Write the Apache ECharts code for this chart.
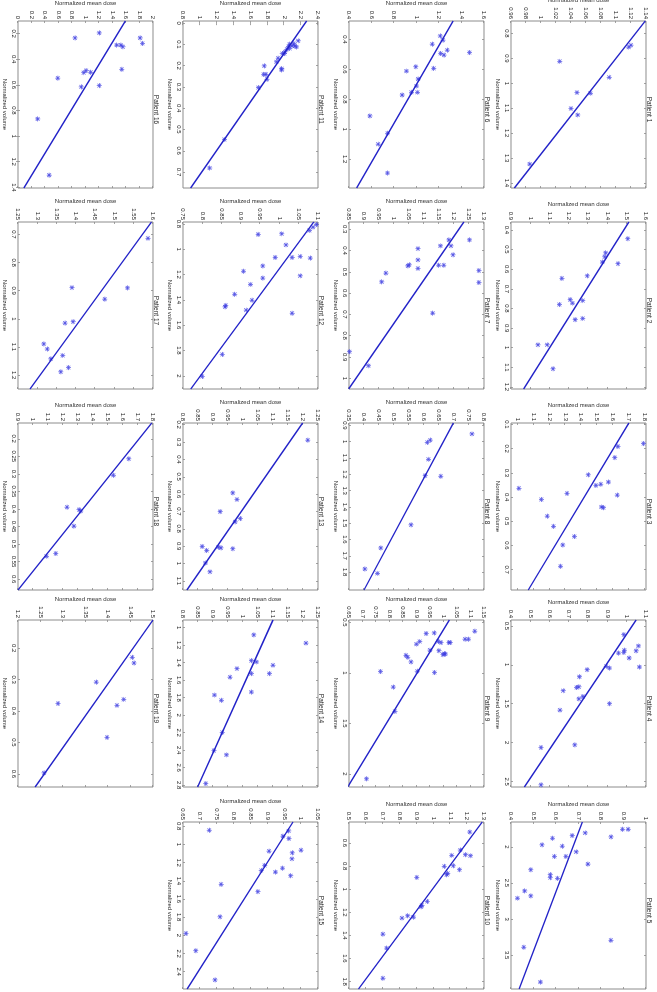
<!DOCTYPE html>
<html>
<head>
<meta charset="utf-8">
<script src="https://cdn.jsdelivr.net/npm/echarts@6/dist/echarts.min.js"></script>
<style>
html, body { margin:0; padding:0; width:657px; height:992px; overflow:hidden; background:#fff; }
/* the figure is drawn landscape and turned a quarter clockwise */
#main { position:absolute; left:0; top:0; width:992px; height:657px; transform-origin:0 0; transform:translate(657px,0) rotate(90deg); }
</style>
</head>
<body>
<div id="main"></div>
<script>
// patient 1
var vol1 = [0.847, 0.855, 0.912, 0.976, 1.037, 1.04, 1.101, 1.127, 1.324];
var dose1 = [1.120, 1.117, 1.025, 1.091, 1.048, 1.066, 1.040, 1.049, 0.985];
var volTicks1 = [0.8, 0.9, 1, 1.1, 1.2, 1.3, 1.4];
var doseTicks1 = [0.96, 0.98, 1, 1.02, 1.04, 1.06, 1.08, 1.1, 1.12, 1.14];
var volRange1 = [0.75, 1.42], doseRange1 = [0.96, 1.14], fit1 = [1.139, 0.9645];
// patient 2
var vol2 = [0.445, 0.537, 0.517, 0.564, 0.572, 0.634, 0.647, 0.76, 0.755, 0.773, 0.78, 0.851, 0.857, 0.985, 0.985, 1.107];
var dose2 = [1.506, 1.386, 1.391, 1.374, 1.455, 1.296, 1.164, 1.272, 1.207, 1.219, 1.151, 1.272, 1.233, 1.088, 1.04, 1.118];
var volTicks2 = [0.4, 0.5, 0.6, 0.7, 0.8, 0.9, 1, 1.1, 1.2];
var doseTicks2 = [0.9, 1, 1.1, 1.2, 1.3, 1.4, 1.5, 1.6];
var volRange2 = [0.36, 1.21], doseRange2 = [0.9, 1.6], fit2 = [1.511, 0.965];
// patient 3
var vol3 = [0.179, 0.191, 0.237, 0.308, 0.338, 0.347, 0.352, 0.392, 0.385, 0.364, 0.41, 0.441, 0.444, 0.479, 0.521, 0.563, 0.598, 0.686];
var dose3 = [1.795, 1.633, 1.613, 1.446, 1.573, 1.525, 1.494, 1.629, 1.312, 1.008, 1.15, 1.529, 1.542, 1.187, 1.227, 1.358, 1.285, 1.271];
var volTicks3 = [0.1, 0.2, 0.3, 0.4, 0.5, 0.6, 0.7];
var doseTicks3 = [1, 1.1, 1.2, 1.3, 1.4, 1.5, 1.6, 1.7, 1.8];
var volRange3 = [0.094, 0.784], doseRange3 = [0.958, 1.81], fit3 = [1.702, 1.067];
// patient 4
var vol4 = [0.613, 0.758, 0.821, 0.813, 0.842, 0.85, 0.913, 1.029, 1.021, 1.042, 1.063, 1.154, 1.292, 1.283, 1.333, 1.408, 1.438, 1.5, 1.583, 2.029, 2.063, 2.542];
var dose4 = [0.985, 1.061, 1.049, 0.988, 0.985, 0.958, 1.013, 1.066, 0.894, 0.911, 0.795, 0.755, 0.74, 0.752, 0.671, 0.773, 0.752, 0.911, 0.654, 0.731, 0.556, 0.556];
var volTicks4 = [0.5, 1, 1.5, 2, 2.5];
var doseTicks4 = [0.4, 0.5, 0.6, 0.7, 0.8, 0.9, 1, 1.1];
var volRange4 = [0.425, 2.57], doseRange4 = [0.4, 1.1], fit4 = [1.049, 0.469];
// patient 5
var vol5 = [1.757, 1.757, 1.862, 1.807, 1.844, 1.881, 1.972, 1.991, 2.069, 2.133, 2.133, 2.239, 2.317, 2.385, 2.427, 2.436, 2.61, 2.679, 2.711, 3.294, 3.39, 3.872];
var dose5 = [0.896, 0.921, 0.845, 0.73, 0.672, 0.585, 0.538, 0.628, 0.69, 0.593, 0.644, 0.742, 0.488, 0.575, 0.575, 0.607, 0.461, 0.488, 0.429, 0.844, 0.457, 0.531];
var volTicks5 = [2, 2.5, 3, 3.5];
var doseTicks5 = [0.4, 0.5, 0.6, 0.7, 0.8, 0.9, 1];
var volRange5 = [1.656, 3.968], doseRange5 = [0.4, 1], fit5 = [0.717, 0.436];
// patient 6
var vol6 = [0.376, 0.404, 0.431, 0.471, 0.493, 0.504, 0.487, 0.582, 0.593, 0.611, 0.664, 0.711, 0.753, 0.753, 0.771, 0.911, 1.027, 1.1, 1.293];
var dose6 = [1.212, 1.236, 1.141, 1.274, 1.215, 1.245, 1.472, 0.994, 1.153, 0.911, 1.015, 1.0, 0.955, 1.009, 0.873, 0.586, 0.743, 0.66, 0.743];
var volTicks6 = [0.4, 0.6, 0.8, 1, 1.2];
var doseTicks6 = [0.4, 0.6, 0.8, 1, 1.2, 1.4, 1.6];
var volRange6 = [0.276, 1.393], doseRange6 = [0.4, 1.6], fit6 = [1.325, 0.468];
// patient 7
var vol7 = [0.35, 0.35, 0.378, 0.378, 0.42, 0.391, 0.444, 0.484, 0.469, 0.469, 0.472, 0.467, 0.494, 0.55, 0.506, 0.547, 0.694, 0.875, 0.941];
var dose7 = [1.252, 1.183, 1.19, 1.155, 1.197, 1.08, 1.08, 1.08, 1.149, 1.166, 1.046, 1.051, 1.283, 1.283, 0.973, 0.959, 1.129, 0.852, 0.915];
var volTicks7 = [0.3, 0.4, 0.5, 0.6, 0.7, 0.8, 0.9, 1];
var doseTicks7 = [0.85, 0.9, 0.95, 1, 1.05, 1.1, 1.15, 1.2, 1.25, 1.3];
var volRange7 = [0.266, 1.05], doseRange7 = [0.85, 1.3], fit7 = [1.233, 0.849];
// patient 8
var vol8 = [0.952, 0.99, 1.004, 1.108, 1.208, 1.212, 1.51, 1.652, 1.808, 1.781];
var dose8 = [0.76, 0.621, 0.611, 0.615, 0.604, 0.656, 0.557, 0.456, 0.445, 0.403];
var volTicks8 = [0.9, 1, 1.1, 1.2, 1.3, 1.4, 1.5, 1.6, 1.7, 1.8];
var doseTicks8 = [0.35, 0.4, 0.45, 0.5, 0.55, 0.6, 0.65, 0.7, 0.75, 0.8];
var volRange8 = [0.885, 1.91], doseRange8 = [0.35, 0.8], fit8 = [0.698, 0.4];
// patient 9
var vol9 = [0.588, 0.667, 0.667, 0.611, 0.605, 0.69, 0.716, 0.69, 0.7, 0.7, 0.7, 0.775, 0.781, 0.81, 0.814, 0.82, 0.827, 0.846, 0.892, 0.987, 0.984, 0.997, 1.141, 1.382, 2.049];
var dose9 = [1.116, 1.08, 1.093, 0.936, 0.966, 0.912, 0.9, 0.981, 0.991, 1.02, 1.025, 0.95, 0.983, 1.003, 1.007, 0.998, 0.861, 0.868, 0.88, 0.767, 0.903, 0.967, 0.814, 0.82, 0.715];
var volTicks9 = [0.5, 1, 1.5, 2];
var doseTicks9 = [0.65, 0.7, 0.75, 0.8, 0.85, 0.9, 0.95, 1, 1.05, 1.1, 1.15];
var volRange9 = [0.477, 2.13], doseRange9 = [0.65, 1.15], fit9 = [1.022, 0.645];
// patient 10
var vol10 = [0.505, 0.661, 0.701, 0.71, 0.707, 0.802, 0.797, 0.831, 0.863, 0.875, 0.898, 1.106, 1.14, 1.152, 1.25, 1.23, 1.242, 1.389, 1.51, 1.771];
var dose10 = [1.216, 1.16, 1.19, 1.22, 1.109, 1.065, 1.118, 1.155, 1.085, 1.079, 0.902, 0.964, 0.932, 0.928, 0.814, 0.848, 0.882, 0.701, 0.723, 0.701];
var volTicks10 = [0.6, 0.8, 1, 1.2, 1.4, 1.6, 1.8];
var doseTicks10 = [0.5, 0.6, 0.7, 0.8, 0.9, 1, 1.1, 1.2, 1.3];
var volRange10 = [0.418, 1.864], doseRange10 = [0.5, 1.3], fit10 = [1.29, 0.556];
// patient 11
var vol11 = [0.083, 0.096, 0.107, 0.112, 0.107, 0.099, 0.11, 0.119, 0.123, 0.135, 0.143, 0.143, 0.165, 0.182, 0.214, 0.22, 0.201, 0.241, 0.241, 0.264, 0.303, 0.547, 0.681];
var dose11 = [2.166, 2.113, 2.125, 2.146, 2.092, 2.064, 2.051, 2.064, 2.031, 2.01, 2.002, 1.977, 1.928, 1.908, 1.969, 1.969, 1.764, 1.756, 1.785, 1.797, 1.694, 1.292, 1.116];
var volTicks11 = [0, 0.1, 0.2, 0.3, 0.4, 0.5, 0.6, 0.7];
var doseTicks11 = [0.8, 1, 1.2, 1.4, 1.6, 1.8, 2, 2.2, 2.4];
var volRange11 = [-0.01, 0.775], doseRange11 = [0.8, 2.4], fit11 = [2.265, 0.89];
// patient 12
var vol12 = [0.805, 0.826, 0.852, 0.878, 0.883, 0.966, 1.065, 1.065, 1.057, 1.07, 1.132, 1.21, 1.174, 1.228, 1.278, 1.356, 1.403, 1.455, 1.444, 1.481, 1.506, 1.831, 2.005];
var dose12 = [1.096, 1.087, 1.078, 1.006, 0.945, 1.017, 0.989, 1.033, 1.054, 1.08, 0.957, 1.054, 0.907, 0.957, 0.925, 0.884, 0.929, 0.859, 0.861, 0.914, 1.033, 0.852, 0.8];
var volTicks12 = [0.8, 1, 1.2, 1.4, 1.6, 1.8, 2];
var doseTicks12 = [0.75, 0.8, 0.85, 0.9, 0.95, 1, 1.05, 1.1];
var volRange12 = [0.785, 2.104], doseRange12 = [0.75, 1.1], fit12 = [1.089, 0.77];
// patient 13
var vol13 = [0.289, 0.593, 0.631, 0.701, 0.741, 0.76, 0.906, 0.91, 0.915, 0.902, 0.925, 0.997, 1.048];
var dose13 = [1.216, 0.966, 0.98, 0.924, 0.991, 0.974, 0.918, 0.927, 0.966, 0.864, 0.879, 0.875, 0.89];
var volTicks13 = [0.2, 0.3, 0.4, 0.5, 0.6, 0.7, 0.8, 0.9, 1, 1.1];
var doseTicks13 = [0.8, 0.85, 0.9, 0.95, 1, 1.05, 1.1, 1.15, 1.2, 1.25];
var volRange13 = [0.19, 1.153], doseRange13 = [0.8, 1.25], fit13 = [1.199, 0.813];
// patient 14
var vol14 = [1.177, 1.083, 1.377, 1.392, 1.43, 1.525, 1.525, 1.468, 1.566, 1.736, 1.77, 1.83, 2.196, 2.404, 2.453, 2.781];
var dose14 = [1.21, 1.036, 1.028, 1.045, 1.1, 1.088, 1.028, 0.98, 0.957, 1.028, 0.905, 0.928, 0.931, 0.903, 0.945, 0.876];
var volTicks14 = [1, 1.2, 1.4, 1.6, 1.8, 2, 2.2, 2.4, 2.6, 2.8];
var doseTicks14 = [0.8, 0.85, 0.9, 0.95, 1, 1.05, 1.1, 1.15, 1.2, 1.25];
var volRange14 = [0.913, 2.82], doseRange14 = [0.8, 1.25], fit14 = [1.1, 0.849];
// patient 15
var vol15 = [0.844, 0.851, 0.909, 0.935, 1.063, 1.092, 1.074, 1.158, 1.231, 1.261, 1.286, 1.304, 1.344, 1.439, 1.519, 1.796, 1.979, 2.169, 2.49];
var dose15 = [0.728, 0.963, 0.946, 0.964, 1.0, 0.974, 0.905, 0.973, 0.892, 0.945, 0.882, 0.924, 0.969, 0.763, 0.872, 0.76, 0.659, 0.688, 0.745];
var volTicks15 = [0.8, 1, 1.2, 1.4, 1.6, 1.8, 2, 2.2, 2.4];
var doseTicks15 = [0.65, 0.7, 0.75, 0.8, 0.85, 0.9, 0.95, 1, 1.05];
var volRange15 = [0.753, 2.59], doseRange15 = [0.65, 1.05], fit15 = [0.976, 0.662];
// patient 16
var vol16 = [0.195, 0.234, 0.234, 0.277, 0.29, 0.29, 0.303, 0.479, 0.489, 0.505, 0.502, 0.548, 0.616, 0.606, 0.866, 1.305];
var dose16 = [1.205, 0.846, 1.81, 1.846, 1.462, 1.523, 1.554, 1.538, 1.01, 0.974, 1.077, 0.59, 0.938, 1.205, 0.292, 0.462];
var volTicks16 = [0.2, 0.4, 0.6, 0.8, 1, 1.2, 1.4];
var doseTicks16 = [0, 0.2, 0.4, 0.6, 0.8, 1, 1.2, 1.4, 1.6, 1.8, 2];
var volRange16 = [0.102, 1.405], doseRange16 = [0, 2], fit16 = [1.59, 0.087];
// patient 17
var vol17 = [0.714, 0.89, 0.889, 0.93, 1.01, 1.015, 1.089, 1.107, 1.142, 1.13, 1.173, 1.188];
var dose17 = [1.587, 1.534, 1.39, 1.475, 1.393, 1.372, 1.317, 1.326, 1.335, 1.366, 1.381, 1.361];
var volTicks17 = [0.7, 0.8, 0.9, 1, 1.1, 1.2];
var doseTicks17 = [1.25, 1.3, 1.35, 1.4, 1.45, 1.5, 1.55, 1.6];
var volRange17 = [0.656, 1.249], doseRange17 = [1.25, 1.6], fit17 = [1.596, 1.281];
// patient 18
var vol18 = [0.257, 0.304, 0.395, 0.402, 0.406, 0.449, 0.527, 0.535];
var dose18 = [1.639, 1.536, 1.227, 1.307, 1.319, 1.273, 1.152, 1.09];
var volTicks18 = [0.2, 0.25, 0.3, 0.35, 0.4, 0.45, 0.5, 0.55, 0.6];
var doseTicks18 = [0.9, 1, 1.1, 1.2, 1.3, 1.4, 1.5, 1.6, 1.7, 1.8];
var volRange18 = [0.155, 0.631], doseRange18 = [0.9, 1.8], fit18 = [1.792, 0.9];
// patient 19
var vol19 = [0.229, 0.247, 0.308, 0.363, 0.382, 0.376, 0.484, 0.597];
var dose19 = [1.454, 1.458, 1.374, 1.435, 1.42, 1.289, 1.398, 1.258];
var volTicks19 = [0.2, 0.3, 0.4, 0.5, 0.6];
var doseTicks19 = [1.2, 1.25, 1.3, 1.35, 1.4, 1.45, 1.5];
var volRange19 = [0.11, 0.642], doseRange19 = [1.2, 1.5], fit19 = [1.5, 1.238];

var patients = [
  [vol1, dose1, volTicks1, doseTicks1, volRange1, doseRange1, fit1],
  [vol2, dose2, volTicks2, doseTicks2, volRange2, doseRange2, fit2],
  [vol3, dose3, volTicks3, doseTicks3, volRange3, doseRange3, fit3],
  [vol4, dose4, volTicks4, doseTicks4, volRange4, doseRange4, fit4],
  [vol5, dose5, volTicks5, doseTicks5, volRange5, doseRange5, fit5],
  [vol6, dose6, volTicks6, doseTicks6, volRange6, doseRange6, fit6],
  [vol7, dose7, volTicks7, doseTicks7, volRange7, doseRange7, fit7],
  [vol8, dose8, volTicks8, doseTicks8, volRange8, doseRange8, fit8],
  [vol9, dose9, volTicks9, doseTicks9, volRange9, doseRange9, fit9],
  [vol10, dose10, volTicks10, doseTicks10, volRange10, doseRange10, fit10],
  [vol11, dose11, volTicks11, doseTicks11, volRange11, doseRange11, fit11],
  [vol12, dose12, volTicks12, doseTicks12, volRange12, doseRange12, fit12],
  [vol13, dose13, volTicks13, doseTicks13, volRange13, doseRange13, fit13],
  [vol14, dose14, volTicks14, doseTicks14, volRange14, doseRange14, fit14],
  [vol15, dose15, volTicks15, doseTicks15, volRange15, doseRange15, fit15],
  [vol16, dose16, volTicks16, doseTicks16, volRange16, doseRange16, fit16],
  [vol17, dose17, volTicks17, doseTicks17, volRange17, doseRange17, fit17],
  [vol18, dose18, volTicks18, doseTicks18, volRange18, doseRange18, fit18],
  [vol19, dose19, volTicks19, doseTicks19, volRange19, doseRange19, fit19]
];

// panel boxes in the unrotated (landscape) frame
var colLeft = [21, 222, 423, 620, 822];
var rowTop = [11, 173, 339, 504];
var boxW = 167, boxH = 135;

var textColor = '#2a2a2a';
var boxColor = '#8c8c8c';
var blue = '#2222c8';
// matlab style '*' marker
var star = 'path://M4.3,0H5.7V3.6L8.3,1L9.3,2L6.7,4.3H10V5.7H6.7L9.3,8.3L8.3,9.3L5.7,6.7V10H4.3V6.7L1.7,9.3L0.7,8.3L3.3,5.7H0V4.3H3.3L0.7,2L1.7,1L4.3,3.6Z';

function fmt(v) { return String(Math.round(v * 1000) / 1000); }

var grids = [], xAxes = [], yAxes = [], series = [], titles = [];

patients.forEach(function (p, i) {
  var c = i % 5, r = Math.floor(i / 5);
  var vol = p[0], dose = p[1], volTicks = p[2], doseTicks = p[3], volRange = p[4], doseRange = p[5], fit = p[6];
  grids.push({
    left: colLeft[c], top: rowTop[r], width: boxW, height: boxH,
    show: true, borderColor: boxColor, borderWidth: 1, backgroundColor: '#fff',
    containLabel: false, outerBoundsMode: 'none'
  });
  var tick = { inside: true, length: 2, lineStyle: { color: boxColor, width: 0.8 } };
  xAxes.push({
    gridIndex: i, type: 'value', position: 'bottom', min: volRange[0], max: volRange[1],
    name: 'Normalized volume', nameLocation: 'middle', nameGap: 10,
    nameTextStyle: { fontSize: 6, color: textColor, fontFamily: 'Liberation Sans' },
    axisLine: { show: false }, splitLine: { show: false },
    axisTick: Object.assign({ customValues: volTicks }, tick),
    axisLabel: { customValues: volTicks, fontSize: 6, color: textColor, margin: 1.5, fontFamily: 'Liberation Sans', formatter: fmt }
  });
  xAxes.push({
    gridIndex: i, type: 'value', position: 'top', min: volRange[0], max: volRange[1],
    axisLine: { show: false }, splitLine: { show: false },
    axisTick: Object.assign({ customValues: volTicks }, tick),
    axisLabel: { show: false }
  });
  yAxes.push({
    gridIndex: i, type: 'value', position: 'left', min: doseRange[0], max: doseRange[1],
    name: 'Normalized mean dose', nameLocation: 'middle', nameGap: 14,
    nameTextStyle: { fontSize: 6, color: textColor, fontFamily: 'Liberation Sans' },
    axisLine: { show: false }, splitLine: { show: false },
    axisTick: Object.assign({ customValues: doseTicks }, tick),
    axisLabel: { customValues: doseTicks, fontSize: 6, color: textColor, margin: 2, fontFamily: 'Liberation Sans', formatter: fmt }
  });
  yAxes.push({
    gridIndex: i, type: 'value', position: 'right', min: doseRange[0], max: doseRange[1],
    axisLine: { show: false }, splitLine: { show: false },
    axisTick: Object.assign({ customValues: doseTicks }, tick),
    axisLabel: { show: false }
  });
  series.push({
    type: 'scatter', xAxisIndex: 2 * i, yAxisIndex: 2 * i,
    symbol: star, symbolSize: 5,
    itemStyle: { color: '#3a3ae0', opacity: 0.85 },
    data: vol.map(function (v, k) { return [v, dose[k]]; }),
    silent: true
  });
  series.push({
    type: 'line', xAxisIndex: 2 * i, yAxisIndex: 2 * i,
    symbol: 'none', clip: true,
    lineStyle: { color: blue, width: 1.4 },
    data: [[volRange[0], fit[0]], [volRange[1], fit[1]]],
    silent: true
  });
  titles.push({
    text: 'Patient ' + (i + 1),
    left: colLeft[c] + boxW / 2, top: rowTop[r] - 11, textAlign: 'center',
    textStyle: { fontSize: 6.5, fontWeight: 'normal', color: textColor, fontFamily: 'Liberation Sans' }
  });
});

var chart = echarts.init(document.getElementById('main'), null, { renderer: 'canvas' });
chart.setOption({
  animation: false,
  backgroundColor: '#fff',
  title: titles,
  grid: grids,
  xAxis: xAxes,
  yAxis: yAxes,
  series: series
});
</script>
</body>
</html>
